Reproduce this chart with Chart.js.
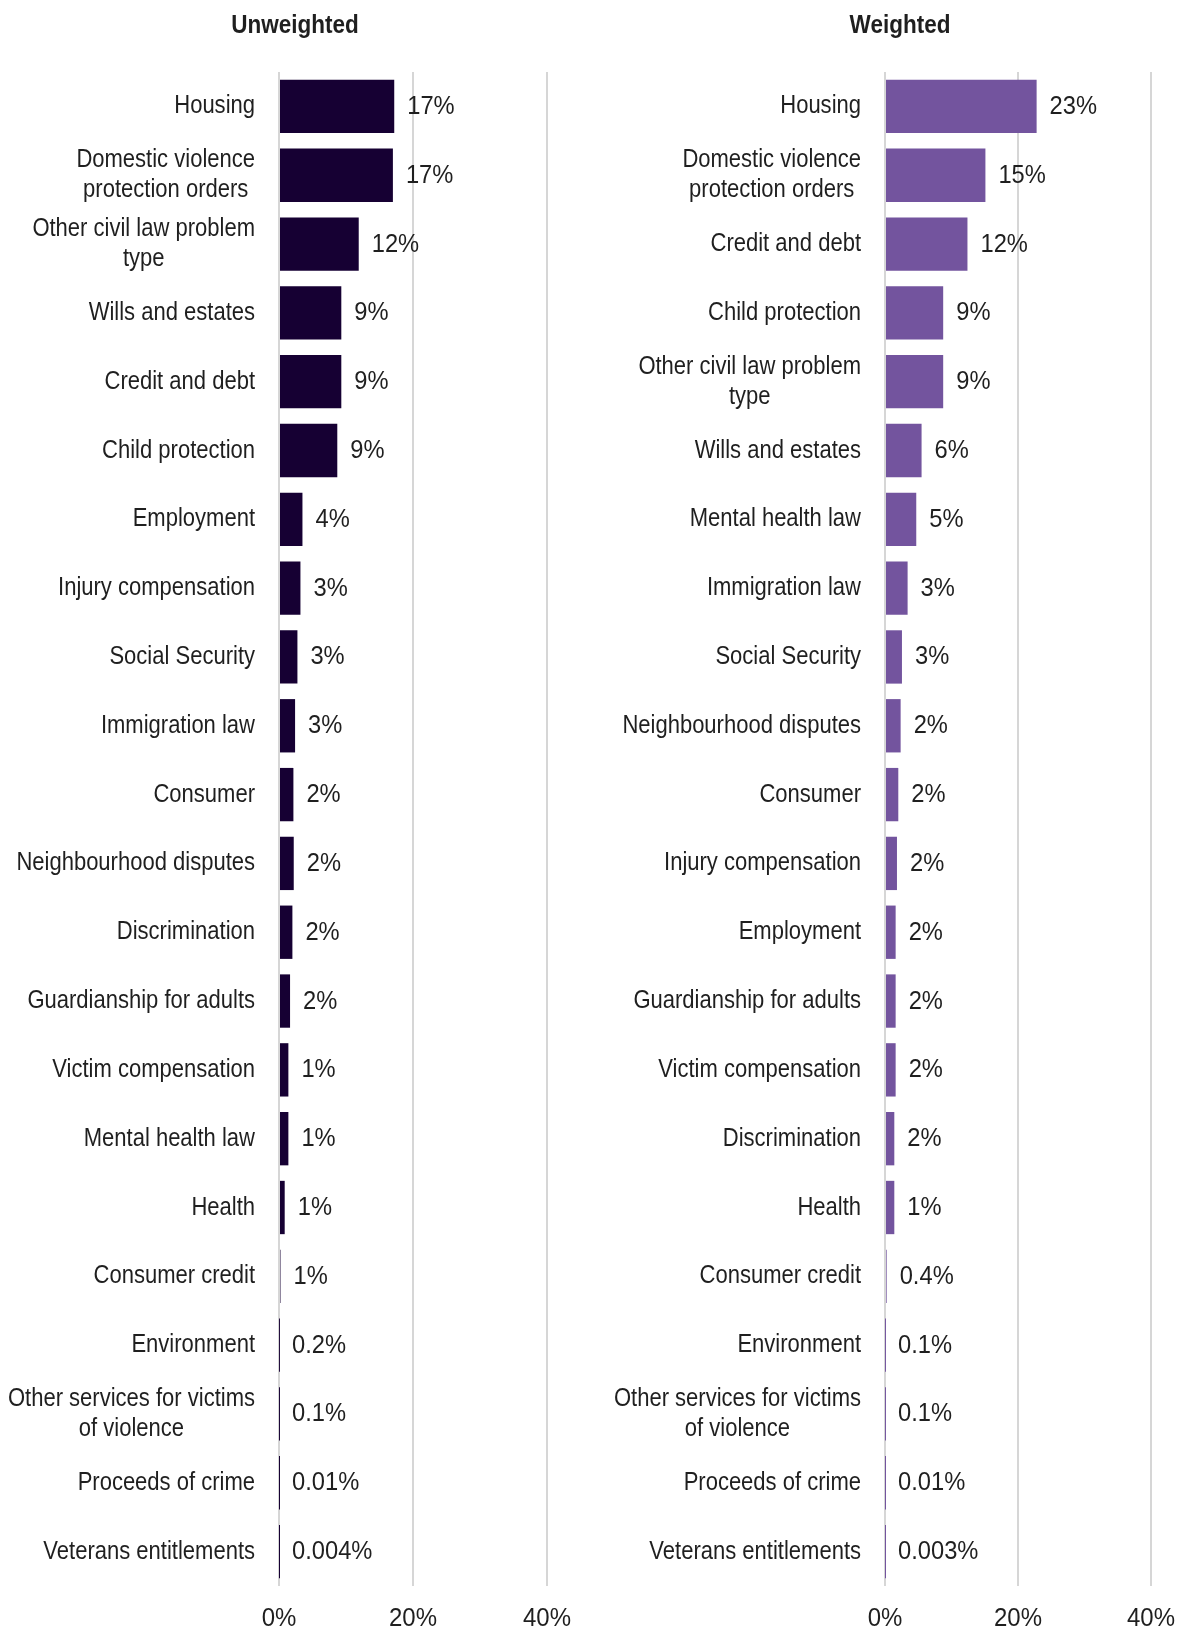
<!DOCTYPE html>
<html>
<head>
<meta charset="utf-8">
<script src="https://cdn.jsdelivr.net/npm/chart.js@4.4.1/dist/chart.umd.min.js"></script>
<style>
  html, body { margin: 0; padding: 0; background: #ffffff; }
  body { width: 1188px; height: 1631px; position: relative; overflow: hidden; }
  .box { position: absolute; top: 0; height: 1631px; }
</style>
</head>
<body>
<div class="box" style="left:0; width:594px"><canvas id="c1"></canvas></div>
<div class="box" style="left:594px; width:594px"><canvas id="c2"></canvas></div>
<script>
// ---- Data ----
const unweightedCategories = [
  "Housing", ["Domestic violence", "protection orders"], ["Other civil law problem", "type"],
  "Wills and estates", "Credit and debt", "Child protection", "Employment", "Injury compensation",
  "Social Security", "Immigration law", "Consumer", "Neighbourhood disputes", "Discrimination",
  "Guardianship for adults", "Victim compensation", "Mental health law", "Health", "Consumer credit",
  "Environment", ["Other services for victims", "of violence"], "Proceeds of crime", "Veterans entitlements"
];
const unweightedValues = [17.2, 17.0, 11.9, 9.3, 9.3, 8.7, 3.5, 3.2, 2.75, 2.4, 2.15, 2.2, 2.0, 1.65, 1.4, 1.4, 0.85, 0.22, 0.01, 0.005, 0.001, 0.0004];
const unweightedLabels = ["17%", "17%", "12%", "9%", "9%", "9%", "4%", "3%", "3%", "3%", "2%", "2%", "2%", "2%", "1%", "1%", "1%", "1%", "0.2%", "0.1%", "0.01%", "0.004%"];

const weightedCategories = [
  "Housing", ["Domestic violence", "protection orders"], "Credit and debt", "Child protection",
  ["Other civil law problem", "type"], "Wills and estates", "Mental health law", "Immigration law",
  "Social Security", "Neighbourhood disputes", "Consumer", "Injury compensation", "Employment",
  "Guardianship for adults", "Victim compensation", "Discrimination", "Health", "Consumer credit",
  "Environment", ["Other services for victims", "of violence"], "Proceeds of crime", "Veterans entitlements"
];
const weightedValues = [22.8, 15.1, 12.4, 8.75, 8.75, 5.5, 4.7, 3.4, 2.55, 2.35, 2.0, 1.8, 1.6, 1.6, 1.6, 1.4, 1.4, 0.25, 0.005, 0.005, 0.001, 0.0003];
const weightedLabels = ["23%", "15%", "12%", "9%", "9%", "6%", "5%", "3%", "3%", "2%", "2%", "2%", "2%", "2%", "2%", "2%", "1%", "0.4%", "0.1%", "0.1%", "0.01%", "0.003%"];

const xTicks = [0, 20, 40];

// ---- Styling ----
const FONT = "'Liberation Sans', Arial, sans-serif";
const TEXT_COLOR = '#1f1f1f';

function drawScaledText(ctx, text, x, y, sx, align) {
  ctx.save();
  ctx.translate(x, y);
  ctx.scale(sx, 1);
  ctx.textAlign = align;
  ctx.fillText(text, 0, 0);
  ctx.restore();
}

const textPlugin = {
  id: 'textLayer',
  afterDraw(chart, args, opts) {
    const ctx = chart.ctx;
    const area = chart.chartArea;
    const xs = chart.scales.x, ys = chart.scales.y;
    ctx.save();
    ctx.fillStyle = TEXT_COLOR;

    // Title
    ctx.font = 'bold 25px ' + FONT;
    ctx.textBaseline = 'alphabetic';
    drawScaledText(ctx, opts.title, opts.titleX, 33, 0.9, 'center');

    // Category labels (condensed); multi-line blocks are right-aligned, lines centred
    const SX = 0.86;
    ctx.font = '25.6px ' + FONT;
    ctx.textBaseline = 'middle';
    const rightEdge = area.left - 24;
    chart.data.labels.forEach((lab, i) => {
      const lines = Array.isArray(lab) ? lab : [lab];
      const cy = ys.getPixelForValue(i);
      const lh = 30;
      if (lines.length === 1) {
        drawScaledText(ctx, lines[0], rightEdge, cy, SX, 'right');
      } else {
        const maxW = Math.max(...lines.map(l => ctx.measureText(l).width)) * SX;
        const cx = rightEdge - maxW / 2;
        lines.forEach((ln, k) => {
          const y = cy + (k - (lines.length - 1) / 2) * lh;
          drawScaledText(ctx, ln, cx, y, SX, 'center');
        });
      }
    });

    // X tick labels
    ctx.font = '25.5px ' + FONT;
    ctx.textBaseline = 'middle';
    xs.ticks.forEach(t => {
      drawScaledText(ctx, t.value + '%', xs.getPixelForValue(t.value), 1619, 0.94, 'center');
    });

    // Value labels
    const meta = chart.getDatasetMeta(0);
    meta.data.forEach((bar, i) => {
      drawScaledText(ctx, opts.labels[i], bar.x + 13, bar.y + 0.5, 0.93, 'left');
    });
    ctx.restore();
  }
};

function makeChart(id, cats, vals, labels, color, areaLeft, padRight, title, titleX) {
  return new Chart(document.getElementById(id), {
    type: 'bar',
    data: {
      labels: cats,
      datasets: [{
        data: vals,
        backgroundColor: color,
        borderWidth: 0,
        categoryPercentage: 1.0,
        barPercentage: 0.775
      }]
    },
    options: {
      indexAxis: 'y',
      responsive: true,
      maintainAspectRatio: false,
      animation: false,
      layout: { padding: { top: 72, right: padRight, bottom: 0, left: 0 } },
      plugins: {
        legend: { display: false },
        tooltip: { enabled: false },
        title: { display: false },
        textLayer: { labels: labels, title: title, titleX: titleX }
      },
      scales: {
        x: {
          min: 0, max: 40,
          afterBuildTicks(scale) { scale.ticks = xTicks.map(v => ({ value: v })); },
          afterFit(scale) { scale.height = 45; },
          grid: { color: '#d6d6d6', lineWidth: 2, drawTicks: false },
          border: { display: false },
          ticks: { display: false }
        },
        y: {
          afterFit(scale) { scale.width = areaLeft; },
          grid: { display: false, drawTicks: false },
          border: { display: false },
          ticks: { display: false, autoSkip: false }
        }
      }
    },
    plugins: [textPlugin]
  });
}

makeChart('c1', unweightedCategories, unweightedValues, unweightedLabels, '#160033', 279, 47, 'Unweighted', 295);
makeChart('c2', weightedCategories, weightedValues, weightedLabels, '#73549e', 291, 37, 'Weighted', 306);
</script>
</body>
</html>
